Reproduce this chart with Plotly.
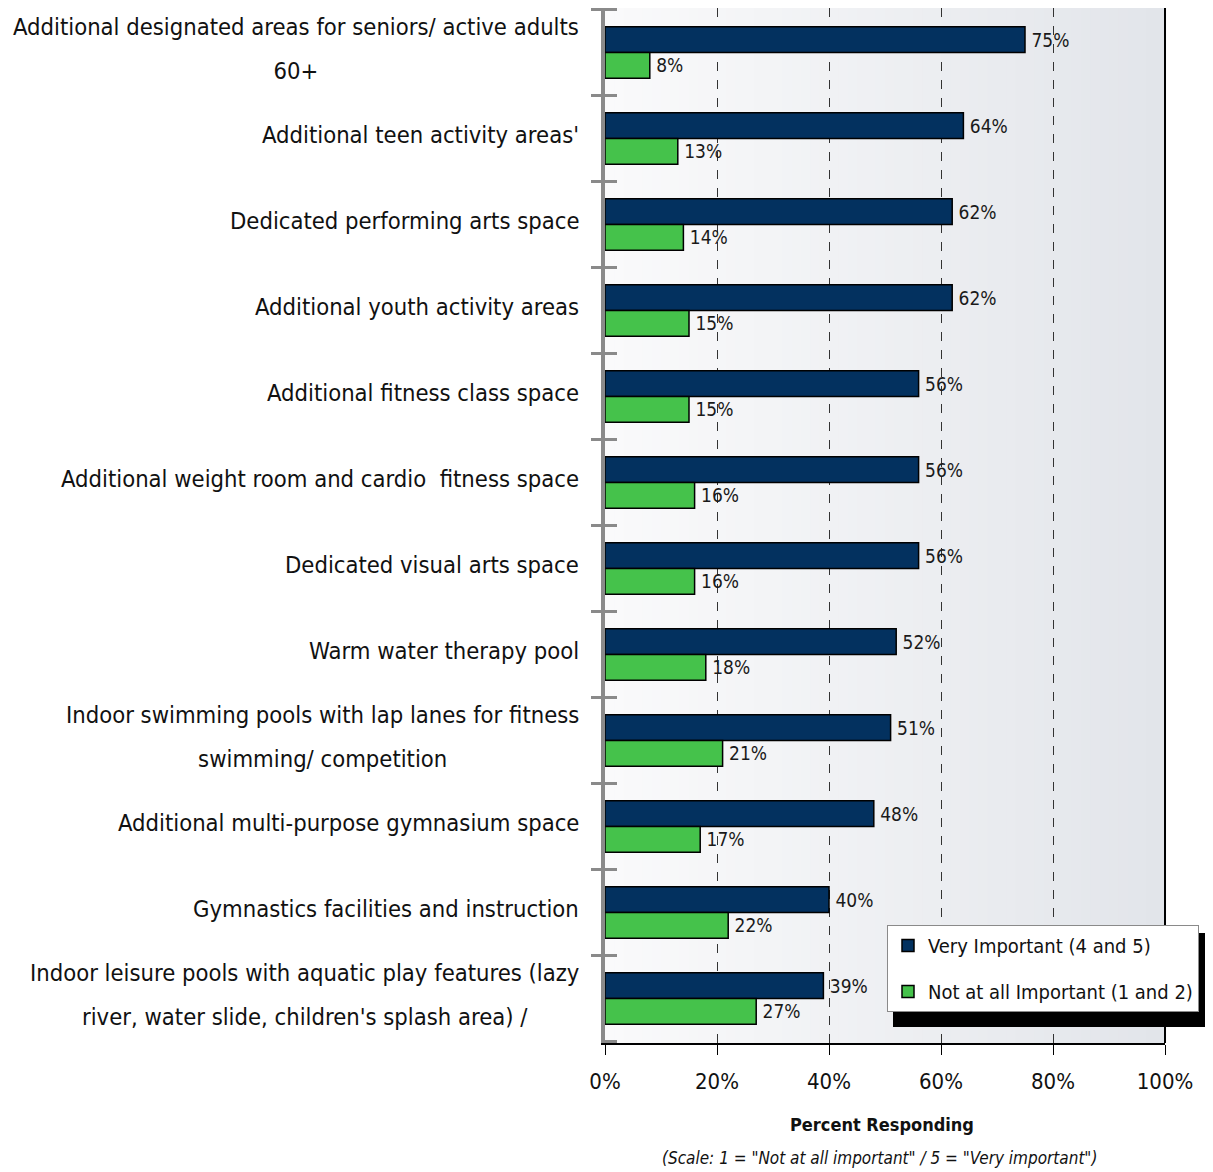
import plotly.graph_objects as go

categories = [
    "Additional designated areas for seniors/ active adults<br>60+",
    "Additional teen activity areas'",
    "Dedicated performing arts space",
    "Additional youth activity areas",
    "Additional fitness class space",
    "Additional weight room and cardio  fitness space",
    "Dedicated visual arts space",
    "Warm water therapy pool",
    "Indoor swimming pools with lap lanes for fitness<br>swimming/ competition",
    "Additional multi-purpose gymnasium space",
    "Gymnastics facilities and instruction",
    "Indoor leisure pools with aquatic play features (lazy<br>river, water slide, children's splash area) /",
]
very_important = [75, 64, 62, 62, 56, 56, 56, 52, 51, 48, 40, 39]
not_important = [8, 13, 14, 15, 15, 16, 16, 18, 21, 17, 22, 27]
series_names = ["Very Important (4 and 5)", "Not at all Important (1 and 2)"]
x_ticks = [0, 20, 40, 60, 80, 100]
x_tick_labels = ["0%", "20%", "40%", "60%", "80%", "100%"]

FONT = "Liberation Sans Narrow, Arial Narrow, DejaVu Sans Condensed, Roboto, sans-serif"
BLUE = "#03315f"
GREEN = "#45c24b"
PW = 560.0  # plot width px
PH = 1035.0  # plot height px

fig = go.Figure()
for name, vals, color, grp in [
    (series_names[0], very_important, BLUE, "a"),
    (series_names[1], not_important, GREEN, "b"),
]:
    fig.add_trace(go.Bar(
        y=categories, x=vals, orientation="h", name=name,
        marker=dict(color=color, line=dict(color="#000000", width=1.5)),
        text=["\u2009%d%%" % v for v in vals], textposition="outside",
        textfont=dict(family=FONT, size=19, color="#1a1a1a"),
        constraintext="none", cliponaxis=False, legendgroup=grp,
    ))

shapes = []
# gradient background of plot area
n = 60
for i in range(n):
    t = i / (n - 1)
    c0 = (250, 250, 251)
    c1 = (226, 229, 234)
    col = tuple(int(round(c0[k] + (c1[k] - c0[k]) * t)) for k in range(3))
    shapes.append(dict(type="rect", xref="x domain", yref="y domain",
                       x0=i / n, x1=(i + 1) / n + 0.002, y0=0, y1=1,
                       fillcolor="rgb(%d,%d,%d)" % col, line=dict(width=0), layer="below"))
# right border
shapes.append(dict(type="line", xref="x domain", yref="y domain", x0=1, x1=1, y0=0, y1=1,
                   line=dict(color="#000000", width=2), layer="above"))
# inner part of the category boundary ticks
for i in range(len(categories) + 1):
    shapes.append(dict(type="line", xref="x domain", yref="y", x0=0, x1=12 / PW,
                       y0=i - 0.5, y1=i - 0.5, line=dict(color="#8a8a8a", width=3), layer="above"))
# legend shadow
shapes.append(dict(type="rect", xref="paper", yref="paper",
                   x0=(893 - 605) / PW, x1=(1210 - 605) / PW,
                   y0=(1043 - 1027) / PH, y1=(1043 - 933) / PH,
                   fillcolor="#000000", line=dict(width=0), layer="above"))

annotations = []
for cat in categories:
    lines = cat.split("<br>")
    txt = "<br>".join("<span style='font-size:23.6px'>%s</span>" % l for l in lines)
    annotations.append(dict(x=0, xref="paper", xshift=-24, y=cat, yref="y", yshift=4,
                            text=txt, showarrow=False, xanchor="right", yanchor="middle",
                            align="center", font=dict(family=FONT, size=34, color="#111111")))
annotations.append(dict(x=0.495, xref="paper", y=-81 / PH, yref="paper", text="<b>Percent Responding</b>",
                        showarrow=False, font=dict(family=FONT, size=18, color="#111111"),
                        xanchor="center", yanchor="middle"))
annotations.append(dict(x=0.49, xref="paper", y=-115 / PH, yref="paper",
                        text="<i>(Scale: 1 = \"Not at all important\" / 5 = \"Very important\")</i>",
                        showarrow=False, font=dict(family=FONT, size=17, color="#111111"),
                        xanchor="center", yanchor="middle"))

fig.update_layout(
    width=1205, height=1164,
    margin=dict(l=597, r=1205 - 597 - PW, t=0, b=1164 - PH, autoexpand=False),
    paper_bgcolor="#ffffff", plot_bgcolor="rgba(0,0,0,0)",
    barmode="group", bargap=0.4, bargroupgap=0,
    font=dict(family=FONT, color="#111111"),
    shapes=shapes, annotations=annotations,
    legend=dict(x=(887 - 605) / PW, y=(1043 - 925) / PH, xanchor="left", yanchor="top",
                bgcolor="#ffffff", bordercolor="#8a8a8a", borderwidth=1,
                font=dict(family=FONT, size=20, color="#111111"),
                traceorder="grouped", tracegroupgap=17),
)
fig.update_xaxes(range=[0, 100], tickvals=x_ticks, ticktext=x_tick_labels,
                 tickfont=dict(family=FONT, size=22, color="#111111"),
                 ticks="outside", ticklen=10, tickcolor="#000000", tickwidth=1,
                 ticklabelstandoff=8,
                 showline=True, linecolor="#000000", linewidth=2, mirror=True,
                 showgrid=True, gridcolor="#333333", griddash="dash", gridwidth=1,
                 zeroline=False, fixedrange=True)
fig.update_yaxes(categoryorder="array", categoryarray=categories, autorange="reversed",
                 showticklabels=False, ticks="outside", tickson="boundaries", ticklen=10,
                 tickwidth=3, tickcolor="#8a8a8a", showline=True, linecolor="#8a8a8a",
                 linewidth=4, showgrid=False, zeroline=False)

fig.write_html("out.html")
